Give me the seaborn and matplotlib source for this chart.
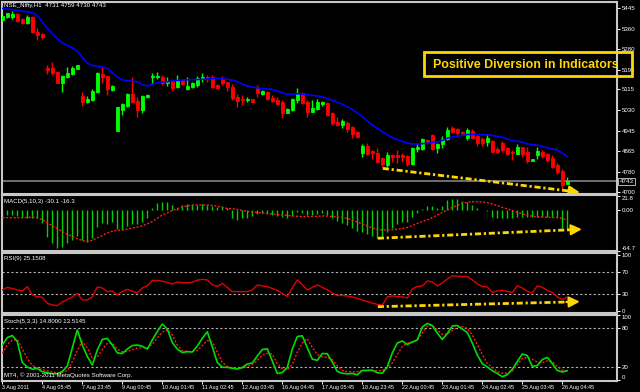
import matplotlib
matplotlib.use("Agg")
import matplotlib.pyplot as plt
import matplotlib.transforms as mtransforms
from matplotlib.patches import Rectangle
import numpy as np
import pandas as pd
import seaborn as sns

# NSE_Nifty H1, bars (left to right)
opens = [5396, 5407, 5409, 5419, 5400, 5383, 5409, 5349, 5339, 5202,
         5200, 5187, 5140, 5166, 5177, 5199, 5088, 5065, 5072, 5106,
         5177, 5169, 5113, 4948, 5032, 5048, 5096, 5069, 5032, 5083,
         5164, 5164, 5166, 5140, 5150, 5126, 5153, 5115, 5126, 5133,
         5158, 5166, 5164, 5133, 5160, 5146, 5126, 5085, 5075, 5073,
         5076, 5123, 5096, 5103, 5081, 5072, 5065, 5021, 5032, 5072,
         5099, 5065, 5025, 5036, 5056, 5059, 5021, 4984, 4971, 4980,
         4961, 4941, 4859, 4886, 4864, 4859, 4836, 4809, 4849, 4849,
         4849, 4845, 4812, 4872, 4872, 4910, 4930, 4876, 4893, 4913,
         4957, 4953, 4944, 4917, 4948, 4926, 4913, 4903, 4907, 4872,
         4899, 4876, 4863, 4853, 4883, 4863, 4826, 4849, 4863, 4853,
         4836, 4809, 4786, 4731]
highs = [5416, 5426, 5432, 5426, 5404, 5416, 5412, 5362, 5345, 5214,
         5226, 5191, 5173, 5204, 5211, 5214, 5106, 5088, 5118, 5187,
         5204, 5169, 5133, 5045, 5061, 5102, 5164, 5085, 5092, 5096,
         5180, 5184, 5173, 5164, 5156, 5173, 5157, 5164, 5146, 5169,
         5180, 5173, 5173, 5137, 5169, 5146, 5137, 5096, 5092, 5085,
         5077, 5133, 5113, 5110, 5092, 5085, 5072, 5040, 5080, 5119,
         5104, 5072, 5072, 5075, 5069, 5063, 5025, 5002, 4994, 4988,
         4967, 4944, 4894, 4899, 4870, 4876, 4842, 4863, 4853, 4870,
         4856, 4849, 4882, 4897, 4919, 4914, 4934, 4899, 4926, 4961,
         4967, 4957, 4947, 4957, 4953, 4930, 4921, 4934, 4910, 4883,
         4907, 4883, 4870, 4894, 4883, 4883, 4833, 4880, 4870, 4859,
         4849, 4818, 4791, 4759]
lows = [5392, 5403, 5399, 5389, 5380, 5380, 5342, 5315, 5318, 5177,
        5173, 5140, 5106, 5160, 5173, 5198, 5048, 5059, 5068, 5102,
        5140, 5092, 5108, 4948, 5011, 5045, 5059, 5004, 5018, 5080,
        5137, 5156, 5133, 5130, 5110, 5119, 5133, 5113, 5119, 5126,
        5146, 5146, 5122, 5117, 5133, 5110, 5072, 5042, 5052, 5065,
        5064, 5085, 5092, 5072, 5065, 5052, 4998, 5018, 5027, 5061,
        5056, 5004, 5025, 5032, 5048, 5008, 4971, 4967, 4960, 4944,
        4919, 4918, 4840, 4849, 4832, 4816, 4802, 4802, 4822, 4816,
        4822, 4805, 4809, 4863, 4870, 4894, 4870, 4859, 4879, 4910,
        4937, 4923, 4934, 4910, 4913, 4887, 4886, 4886, 4861, 4859,
        4863, 4849, 4829, 4852, 4840, 4818, 4825, 4832, 4836, 4822,
        4795, 4772, 4708, 4730]
closes = [5412, 5423, 5419, 5392, 5383, 5409, 5346, 5335, 5326, 5194,
          5180, 5142, 5169, 5183, 5202, 5213, 5065, 5077, 5110, 5183,
          5164, 5115, 5129, 5042, 5055, 5096, 5065, 5032, 5088, 5092,
          5169, 5169, 5142, 5146, 5119, 5150, 5137, 5130, 5140, 5160,
          5166, 5160, 5126, 5119, 5142, 5126, 5079, 5069, 5072, 5075,
          5065, 5099, 5108, 5076, 5068, 5056, 5021, 5036, 5076, 5102,
          5059, 5025, 5041, 5063, 5063, 5011, 4978, 4971, 4988, 4953,
          4934, 4921, 4886, 4853, 4856, 4822, 4813, 4849, 4840, 4840,
          4840, 4813, 4876, 4880, 4914, 4903, 4872, 4894, 4913, 4951,
          4944, 4937, 4937, 4951, 4917, 4899, 4897, 4917, 4863, 4863,
          4870, 4853, 4856, 4883, 4853, 4826, 4832, 4867, 4845, 4829,
          4802, 4782, 4728, 4743]
ma_line = [5443, 5441, 5438, 5436, 5432, 5429, 5426, 5415, 5388, 5362,
           5341, 5321, 5303, 5294, 5283, 5270, 5244, 5222, 5212, 5209,
           5206, 5200, 5183, 5165, 5154, 5150, 5148, 5146, 5134, 5129,
           5136, 5142, 5145, 5146, 5149, 5151, 5153, 5154, 5155, 5155,
           5156, 5157, 5159, 5160, 5158, 5156, 5153, 5146, 5137, 5129,
           5124, 5121, 5119, 5117, 5114, 5109, 5102, 5095, 5096, 5097,
           5096, 5093, 5091, 5089, 5085, 5078, 5071, 5063, 5055, 5044,
           5034, 5019, 5005, 4986, 4971, 4957, 4944, 4931, 4920, 4912,
           4904, 4898, 4894, 4894, 4895, 4897, 4900, 4902, 4908, 4917,
           4923, 4926, 4929, 4932, 4933, 4932, 4932, 4931, 4929, 4925,
           4921, 4914, 4908, 4905, 4901, 4895, 4891, 4889, 4884, 4878,
           4873, 4870, 4857, 4843]

macd_main = [-12.3, -8, -8, -9.6, -10.7, -12.3, -13.2, -13.2, -21, -42,
             -52.5, -60.4, -57.9, -52.5, -47.3, -40.6, -47.3, -51, -44.7, -26.4,
             -21, -22.7, -18.6, -30, -31.6, -25.3, -22.7, -22.7, -18.6, -13.2,
             3.5, 10.4, 12, 12, 7.7, 3.5, 7.7, 8.8, 8.8, 7.7,
             8.8, 7.7, 6.6, 5, 6.6, 2.5, -13.2, -15.9, -12.3, -13.2,
             -10, -6, -5, -6, -8, -9, -12, -13, -9, -4,
             -5, -8, -8, -6, -5, -8, -13, -18, -20, -24,
             -29, -33, -35, -38, -41, -44, -42.2, -34.3, -29, -22.7,
             -19.5, -19.5, -11.6, -5.3, 1.4, 6.6, 6.6, 3.5, 6.6, 15.6,
             16.7, 16.7, 14, 12, 7.7, 3.5, 0.5, -1.7, -10.7, -12.3,
             -12.3, -13.2, -13.2, -10.7, -10.7, -11.6, -11.6, -11.6, -11.6, -11.6,
             -10.7, -11.6, -28, -30.1]
macd_signal = [-12.3, -12.3, -12.3, -12.3, -12.3, -12.0, -11.6, -12.7, -15.4, -20.1,
               -25.3, -29.6, -34.0, -38.7, -41.5, -45.3, -48.3, -49.9, -47.8, -44.2,
               -40.3, -36.3, -33.7, -32.1, -31.3, -30.4, -28.5, -27.1, -25.0, -22.3,
               -18.2, -13.4, -8.0, -4.9, -0.9, 2.0, 4.6, 6.4, 7.4, 7.7,
               7.7, 7.7, 6.9, 5.7, 3.8, 2.2, 1.9, 0.6, -0.9, -2.5,
               -3.3, -4.1, -4.9, -5.7, -6.4, -7.2, -8.0, -8.8, -9.6, -10.1,
               -10.4, -10.4, -10.4, -10.1, -9.6, -9.6, -10.4, -11.2, -12.0, -13.5,
               -15.9, -19.0, -22.2, -25.3, -28.5, -30.8, -31.6, -31.6, -31.1, -30.5,
               -29.3, -27.7, -24.5, -21.4, -18.2, -15.9, -12.0, -8.0, -4.1, -0.2,
               3.8, 6.9, 10.1, 12.0, 12.9, 12.9, 12.4, 11.2, 9.3, 6.9,
               3.8, 1.7, -0.9, -3.8, -6.4, -8.5, -10.1, -10.9, -11.2, -11.6,
               -12.0, -12.4, -13.5, -16.3]
rsi_vals = [37.6, 42.0, 40.2, 37.6, 35.8, 43.4, 28.7, 25.7, 24.6, 14.0,
            11.0, 9.8, 16.3, 20.7, 25.2, 31.4, 19.9, 19.9, 25.2, 42.9,
            41.1, 34.6, 35.8, 28.7, 34.9, 38.5, 35.5, 32.3, 41.1, 45.0,
            54.4, 54.4, 53.0, 50.9, 48.2, 51.8, 50.4, 50.0, 51.2, 54.8,
            56.2, 55.3, 46.5, 43.8, 49.1, 42.0, 34.6, 34.6, 34.6, 34.6,
            37.6, 46.5, 44.7, 43.4, 40.2, 36.7, 31.4, 26.1, 41.1, 55.3,
            46.5, 37.6, 42.0, 46.5, 42.0, 37.6, 32.3, 27.8, 27.8, 26.9,
            25.2, 22.5, 19.9, 16.8, 14.5, 11.9, 11.0, 25.2, 26.9, 26.1,
            25.2, 23.4, 39.4, 43.8, 44.7, 53.5, 51.8, 44.7, 50.0, 57.1,
            62.4, 61.9, 61.2, 61.2, 55.3, 48.2, 43.8, 42.9, 33.2, 35.8,
            37.1, 34.9, 33.2, 44.7, 41.1, 34.9, 32.3, 44.7, 42.0, 36.7,
            33.2, 25.2, 20.7, 25.15]
stoch_main = [54.3, 65.8, 68.9, 59.7, 27.4, 20.5, 17.1, 18.1, 13.1, 11.5,
              10.0, 10.2, 13.5, 22.0, 49.7, 77.4, 54.3, 36.6, 23.5, 46.6,
              62.8, 64.6, 54.3, 42.3, 41.2, 48.1, 53.5, 54.3, 52.4, 48.1,
              62.0, 75.1, 86.6, 78.9, 58.1, 48.1, 42.8, 44.0, 43.5, 52.8,
              64.6, 74.7, 51.7, 27.4, 20.0, 20.0, 18.5, 17.4, 19.7, 25.1,
              26.6, 37.4, 47.4, 48.4, 29.7, 10.5, 12.0, 19.7, 48.1, 67.4,
              68.5, 50.0, 32.5, 30.8, 41.2, 40.9, 28.1, 13.5, 10.8, 10.0,
              10.5, 8.5, 15.1, 15.1, 15.5, 11.7, 10.8, 20.9, 42.0, 57.4,
              60.4, 55.1, 58.9, 62.0, 82.0, 87.5, 84.3, 72.7, 62.8, 72.0,
              83.5, 84.3, 78.9, 73.5, 57.4, 38.9, 25.5, 20.5, 14.8, 10.5,
              5.5, 8.6, 16.9, 28.9, 40.4, 38.1, 21.2, 22.8, 32.0, 35.1,
              25.8, 15.1, 12.8, 14.8]
stoch_signal = [41.2, 55.1, 62.0, 62.8, 48.4, 33.5, 22.8, 18.9, 16.6, 14.3,
                12.8, 11.2, 12.0, 15.1, 28.9, 45.8, 59.7, 49.7, 34.3, 35.8,
                47.4, 56.9, 56.9, 48.1, 44.0, 44.3, 47.1, 49.7, 50.4, 49.7,
                55.8, 65.1, 74.3, 77.4, 69.7, 54.3, 45.8, 44.3, 44.3, 45.8,
                53.5, 61.2, 58.9, 43.5, 27.4, 21.2, 19.2, 18.5, 18.9, 21.2,
                24.3, 30.5, 38.9, 41.5, 40.4, 25.1, 17.4, 16.1, 24.3, 43.5,
                57.4, 64.3, 50.4, 39.7, 36.3, 35.1, 32.0, 22.0, 15.1, 13.2,
                13.2, 13.2, 14.3, 15.8, 14.9, 14.8, 14.8, 18.9, 26.6, 39.7,
                52.0, 56.9, 58.9, 62.0, 72.7, 83.5, 84.3, 77.4, 70.4, 71.2,
                76.6, 81.2, 82.7, 79.7, 69.7, 55.1, 39.7, 25.8, 19.7, 13.5,
                10.9, 10.8, 14.3, 24.3, 33.5, 35.1, 32.0, 28.1, 27.4, 29.7,
                28.9, 21.2, 15.8, 13.5]

date_labels = ["3 Aug 2011", "4 Aug 05:45", "7 Aug 23:45", "9 Aug 00:45",
               "10 Aug 01:45", "11 Aug 02:45", "12 Aug 03:45", "16 Aug 04:45",
               "17 Aug 05:45", "18 Aug 23:45", "22 Aug 00:45", "23 Aug 01:45",
               "24 Aug 02:45", "25 Aug 03:45", "26 Aug 04:45"]
price_ticks = [5445, 5360, 5280, 5195, 5115, 5030, 4945, 4865, 4780, 4700]
last_price = 4743

# hand drawn divergence lines: (bar, value) start and arrow tip
price_div = [(76.1, 4795), (115.5, 4698)]
macd_div = [(75.1, -44.7), (115.9, -30.5)]
rsi_div = [(75.1, 8.0), (115.5, 16.8)]

UP, DOWN = "#00ff00", "#ff0000"
GOLD = "#ffd700"

sns.set_theme(style="dark", rc={"axes.facecolor": "black", "figure.facecolor": "black",
                                "text.color": "white", "axes.grid": False})
plt.rcParams["font.family"] = ["Liberation Sans Narrow", "Liberation Sans", "DejaVu Sans"]

W, H = 640, 392
fig = plt.figure(figsize=(W / 100, H / 100), dpi=100, facecolor="black")
n = len(closes)
idx = np.arange(n)


def panel(top, bottom, ylim):
    ax = fig.add_axes([2 / W, 1 - bottom / H, 615 / W, (bottom - top) / H])
    ax.set_facecolor("black")
    for s in ax.spines.values():
        s.set_color("#c8c8c8")
        s.set_linewidth(1.5)
    ax.set_xlim(-0.06, 122.94)
    ax.set_ylim(*ylim)
    ax.yaxis.tick_right()
    ax.tick_params(axis="y", colors="white", labelsize=4.4, length=2, width=0.7, pad=1.2)
    ax.tick_params(axis="x", bottom=False, labelbottom=False)
    ax.grid(False)
    return ax


def div_arrow(ax, pts):
    (x0, y0), (x1, y1) = pts
    t = 1 - 2.4 / (x1 - x0)
    xm, ym = x0 + (x1 - x0) * t, y0 + (y1 - y0) * t
    ax.plot([x0, xm], [y0, ym], color=GOLD, lw=2, ls=(0, (2.2, 1, 0.8, 1)),
            solid_capstyle="butt", clip_on=False, zorder=6)
    ax.annotate("", xy=(x1, y1), xytext=(xm - 0.3, y0 + (y1 - y0) * (t - 0.3 / (x1 - x0))),
                arrowprops=dict(arrowstyle="-|>", color=GOLD, mutation_scale=16, lw=1.5,
                                shrinkA=0, shrinkB=0), annotation_clip=False, zorder=6)


def edge_labels(ax):
    labs = ax.get_yticklabels()
    labs[0].set_va("top")
    labs[-1].set_va("bottom")


# ---- price window
df = pd.DataFrame({"open": opens, "high": highs, "low": lows, "close": closes})
cols = np.where(df["close"] >= df["open"], UP, DOWN)
ax_p = panel(2, 193.5, (4693.3, 5468.9))
ax_p.axhline(last_price, color="#6e6e6e", lw=1.4, zorder=1)
ax_p.vlines(idx, df["low"], df["high"], colors=cols, lw=1, zorder=2)
ax_p.bar(idx, (df["close"] - df["open"]).abs(), bottom=df[["open", "close"]].min(axis=1),
         width=0.6, color=cols, edgecolor=cols, linewidth=0.6, zorder=3)
sns.lineplot(x=idx, y=ma_line, ax=ax_p, color="#0000ff", lw=1.2, zorder=4)
ax_p.set_yticks(price_ticks)
ax_p.set_yticklabels([str(v) for v in price_ticks])
ax_p.text(1.004, last_price, str(last_price), transform=mtransforms.blended_transform_factory(
    ax_p.transAxes, ax_p.transData), ha="left", va="center", fontsize=4.4, color="white",
    bbox=dict(facecolor="black", edgecolor="#d0d0d0", lw=0.6, pad=0.8), clip_on=False)
div_arrow(ax_p, price_div)
ax_p.set_ylabel("")

# ---- MACD window
ax_m = panel(195.5, 251, (-64.7, 22.6))
ax_m.vlines(idx, 0, macd_main, colors="#00d000", lw=1.0, zorder=2)
sns.lineplot(x=idx, y=macd_signal, ax=ax_m, color="#ff1a1a", lw=1, ls=(0, (1.5, 1.2)), zorder=3)
ax_m.set_yticks([21.8, 0, -64.7])
ax_m.set_yticklabels(["21.8", "0.00", "-64.7"])
edge_labels(ax_m)
div_arrow(ax_m, macd_div)

# ---- RSI window
ax_r = panel(252.8, 313, (-3.2, 103.2))
for lvl in (70, 30):
    ax_r.axhline(lvl, color="#b4b4b4", lw=0.8, ls=(0, (2, 2)), zorder=1)
sns.lineplot(x=idx, y=rsi_vals, ax=ax_r, color="#e00000", lw=1, zorder=3)
ax_r.set_yticks([100, 70, 30, 0])
ax_r.set_yticklabels(["100", "70", "30", "0"])
div_arrow(ax_r, rsi_div)

# ---- Stochastic window
ax_s = panel(315, 381, (-1.1, 100.5))
for lvl in (80, 20):
    ax_s.axhline(lvl, color="#b4b4b4", lw=0.8, ls=(0, (2, 2)), zorder=1)
sns.lineplot(x=idx, y=stoch_signal, ax=ax_s, color="#ff1a1a", lw=1, ls=(0, (1.5, 1.2)), zorder=3)
sns.lineplot(x=idx, y=stoch_main, ax=ax_s, color="#00dd00", lw=1.2, zorder=4)
ax_s.set_yticks([100, 80, 20, 0])
ax_s.set_yticklabels(["100", "80", "20", "0"])
edge_labels(ax_s)
ax_s.set_xticks(np.arange(0, n, 8))
ax_s.set_xticklabels(date_labels, ha="left")
ax_s.tick_params(axis="x", bottom=True, labelbottom=True, colors="white", labelsize=3.9,
                 length=2, width=0.7, pad=0.8)

# ---- window captions
for ypx, txt in [(6, "NSE_Nifty,H1  4731 4759 4730 4743"), (201, "MACD(5,10,3) -30.1 -16.3"),
                 (258.5, "RSI(9) 25.1508"), (321.5, "Stoch(5,3,3) 14.8000 13.5145"),
                 (375.5, "MT4, \u00a9 2001-2011 MetaQuotes Software Corp.")]:
    fig.text(4 / W, 1 - ypx / H, txt, color="white", fontsize=4.4, va="center", ha="left")

# ---- callout box
fig.patches.append(Rectangle((424 / W, 1 - 76 / H), 208 / W, 24 / H, transform=fig.transFigure,
                             fill=False, edgecolor=GOLD, lw=2, zorder=10))
fig.text(526 / W, 1 - 64.5 / H, "Positive Diversion in Indicators", color=GOLD, fontsize=8.9,
         fontweight="bold", ha="center", va="center", family=["Liberation Sans", "DejaVu Sans"],
         zorder=11)

fig.savefig("out.png", dpi=100, facecolor="black")
